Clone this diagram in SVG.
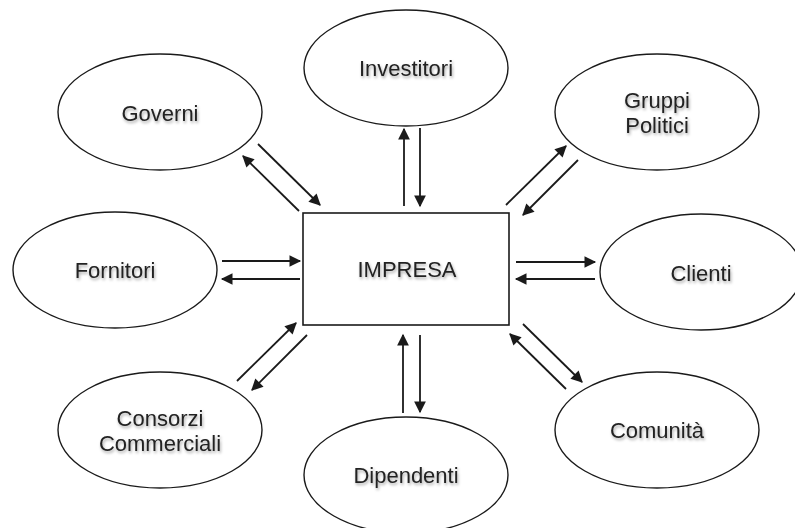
<svg xmlns="http://www.w3.org/2000/svg" width="795" height="528" viewBox="0 0 795 528">
<style>
.node ellipse, .node rect { fill: #fff; stroke: #1a1a1a; stroke-width: 1.4; }
.node rect { stroke-width: 1.6; }
text { font-family: "Liberation Sans", Arial, sans-serif; font-size: 22px; fill: #222; text-anchor: middle; filter: url(#sh); }
#connectors line { stroke: #1a1a1a; stroke-width: 1.8; marker-end: url(#ah); }
</style>
<defs>
<marker id="ah" viewBox="0 0 10 10" refX="9" refY="5" markerWidth="7" markerHeight="6.5" orient="auto" markerUnits="strokeWidth">
<path d="M0,0 L10,5 L0,10 z" fill="#1a1a1a"/>
</marker>
<filter id="sh" x="-20%" y="-30%" width="140%" height="170%">
<feDropShadow dx="1" dy="2" stdDeviation="1.5" flood-color="#000" flood-opacity="0.35"/>
</filter>
</defs>
<rect width="795" height="528" fill="#fff"/>
<g id="connectors">
<!-- Investitori -->
<line x1="404" y1="206" x2="404" y2="129"/>
<line x1="420" y1="128" x2="420" y2="206"/>
<!-- Dipendenti -->
<line x1="403" y1="413" x2="403" y2="335"/>
<line x1="420" y1="335" x2="420" y2="412"/>
<!-- Fornitori -->
<line x1="222" y1="261" x2="300" y2="261"/>
<line x1="300" y1="279" x2="222" y2="279"/>
<!-- Clienti -->
<line x1="516" y1="262" x2="595" y2="262"/>
<line x1="595" y1="279" x2="516" y2="279"/>
<!-- Governi -->
<line x1="258" y1="144" x2="320" y2="205"/>
<line x1="299" y1="211" x2="243" y2="156"/>
<!-- Gruppi Politici -->
<line x1="506" y1="205" x2="566" y2="146"/>
<line x1="578" y1="160" x2="523" y2="215"/>
<!-- Consorzi Commerciali -->
<line x1="237" y1="381" x2="296" y2="323"/>
<line x1="307" y1="335" x2="252" y2="390"/>
<!-- Comunita -->
<line x1="523" y1="324" x2="582" y2="382"/>
<line x1="566" y1="389" x2="510" y2="334"/>
</g>
<g id="impresa" class="node">
<rect x="303" y="213" width="206" height="112"/>
<text x="407" y="277">IMPRESA</text>
</g>
<g id="investitori" class="node">
<ellipse cx="406" cy="68" rx="102" ry="58"/>
<text x="406" y="76">Investitori</text>
</g>
<g id="governi" class="node">
<ellipse cx="160" cy="112" rx="102" ry="58"/>
<text x="160" y="121">Governi</text>
</g>
<g id="gruppi-politici" class="node">
<ellipse cx="657" cy="112" rx="102" ry="58"/>
<text x="657" y="108">Gruppi</text>
<text x="657" y="133">Politici</text>
</g>
<g id="fornitori" class="node">
<ellipse cx="115" cy="270" rx="102" ry="58"/>
<text x="115" y="278">Fornitori</text>
</g>
<g id="clienti" class="node">
<ellipse cx="701" cy="272" rx="101" ry="58"/>
<text x="701" y="281">Clienti</text>
</g>
<g id="consorzi-commerciali" class="node">
<ellipse cx="160" cy="430" rx="102" ry="58"/>
<text x="160" y="426">Consorzi</text>
<text x="160" y="451">Commerciali</text>
</g>
<g id="dipendenti" class="node">
<ellipse cx="406" cy="475" rx="102" ry="58"/>
<text x="406" y="483">Dipendenti</text>
</g>
<g id="comunita" class="node">
<ellipse cx="657" cy="430" rx="102" ry="58"/>
<text x="657" y="438">Comunità</text>
</g>
</svg>
